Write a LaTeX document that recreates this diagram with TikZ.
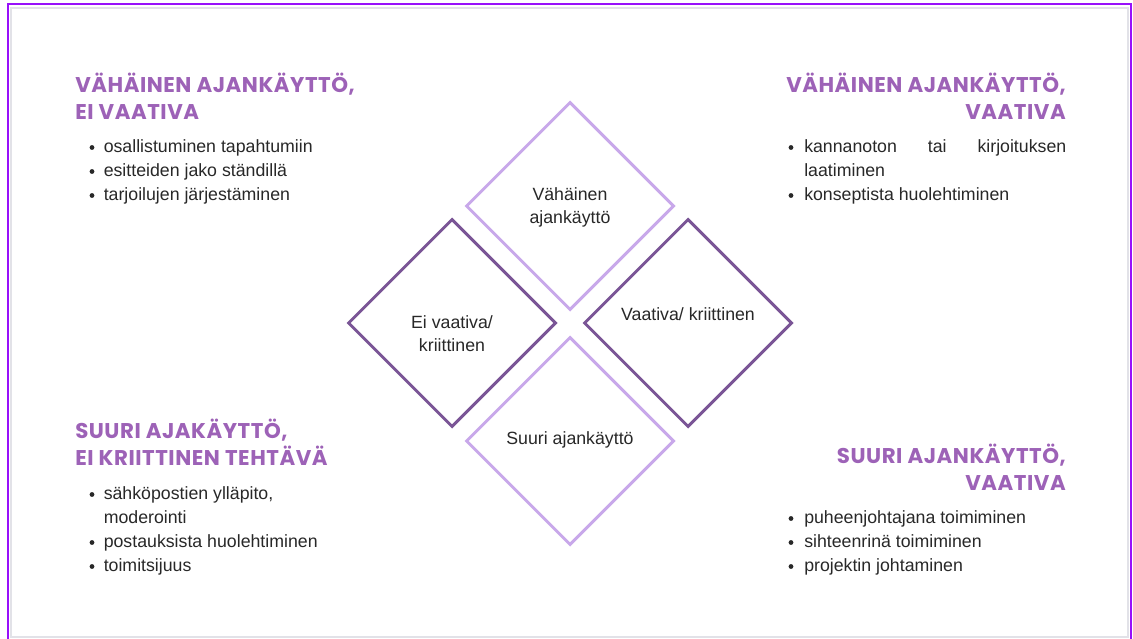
\documentclass[tikz,border=0pt]{standalone}
\usepackage{fontspec}
\setmainfont{Liberation Sans}
\newfontfamily\headfont{Poppins}[LetterSpace=2.5]
\usetikzlibrary{shapes.geometric}
\definecolor{frameviolet}{RGB}{152,16,250}
\definecolor{headpurple}{RGB}{157,98,183}
\definecolor{lightlav}{RGB}{200,168,234}
\definecolor{darkpurp}{RGB}{122,85,150}
\definecolor{bodytext}{RGB}{40,40,40}
\definecolor{edgegray}{RGB}{226,226,232}
\begin{document}
\begin{tikzpicture}[x=0.75pt,y=-0.75pt,
  heading/.style={font=\headfont\bfseries\fontsize{16}{20}\selectfont, text=headpurple, inner sep=0pt},
  itemtext/.style={font=\fontsize{13.3}{18}\selectfont, text=bodytext, inner sep=0pt, anchor=base west},
  dot/.style={circle, fill=bodytext, inner sep=0pt, minimum size=3.6pt},
  quad/.style={diamond, minimum width=156pt, minimum height=156pt, line width=2.25pt, inner sep=0pt},
  quadtext/.style={font=\fontsize{13.3}{17.2}\selectfont, text=bodytext, align=center, inner sep=0pt}]
\useasboundingbox (0,0) rectangle (1133,639);
\fill[white] (0,0) rectangle (1133,639);
% frame
\draw[edgegray, line width=1.2pt] (11,8) rectangle (1128,637);
\draw[frameviolet, line width=1.5pt] (7.8,639) -- (7.8,4) -- (1130.5,4) -- (1130.5,639);

% diamonds
\node[quad, draw=lightlav] (dtop) at (570,206) {};
\node[quad, draw=darkpurp] (dleft) at (452,323) {};
\node[quad, draw=darkpurp] (dright) at (688,323) {};
\node[quad, draw=lightlav] (dbot) at (570,441) {};
\node[quadtext] (ttop) at (570,207) {Vähäinen\\ajankäyttö};
\node[quadtext] (tleft) at (452,334) {Ei vaativa/\\kriittinen};
\node[quadtext] (tright) at (688,314) {Vaativa/ kriittinen};
\node[quadtext] (tbot) at (570,440) {Suuri ajankäyttö};

% top left
\node[heading, anchor=base west] (h1a) at (75,92) {VÄHÄINEN AJANKÄYTTÖ,};
\node[heading, anchor=base west] (h1b) at (75,119) {EI VAATIVA};
\node[dot] (b1a) at (92,147.5) {};
\node[itemtext] (i1a) at (103.5,152) {osallistuminen tapahtumiin};
\node[dot] (b1b) at (92,171.5) {};
\node[itemtext] (i1b) at (103.5,176) {esitteiden jako ständillä};
\node[dot] (b1c) at (92,195.5) {};
\node[itemtext] (i1c) at (103.5,200) {tarjoilujen järjestäminen};

% top right
\node[heading, anchor=base east] (h2a) at (1066,92) {VÄHÄINEN AJANKÄYTTÖ,};
\node[heading, anchor=base east] (h2b) at (1066,119) {VAATIVA};
\node[dot] (b2a) at (791,147.5) {};
\node[itemtext] (i2a) at (804,152) {\makebox[196.5pt][s]{kannanoton tai kirjoituksen}};
\node[itemtext] (i2b) at (804,176) {laatiminen};
\node[dot] (b2c) at (791,195.5) {};
\node[itemtext] (i2c) at (804,200) {konseptista huolehtiminen};

% bottom left
\node[heading, anchor=base west] (h3a) at (75,438) {SUURI AJAKÄYTTÖ,};
\node[heading, anchor=base west] (h3b) at (75,465) {EI KRIITTINEN TEHTÄVÄ};
\node[dot] (b3a) at (92,494.5) {};
\node[itemtext] (i3a) at (103.5,499) {sähköpostien ylläpito,};
\node[itemtext] (i3b) at (103.5,523) {moderointi};
\node[dot] (b3c) at (92,542.5) {};
\node[itemtext] (i3c) at (103.5,547) {postauksista huolehtiminen};
\node[dot] (b3d) at (92,566.5) {};
\node[itemtext] (i3d) at (103.5,571) {toimitsijuus};

% bottom right
\node[heading, anchor=base east] (h4a) at (1066,463) {SUURI AJANKÄYTTÖ,};
\node[heading, anchor=base east] (h4b) at (1066,490) {VAATIVA};
\node[dot] (b4a) at (791,518.5) {};
\node[itemtext] (i4a) at (804,523) {puheenjohtajana toimiminen};
\node[dot] (b4b) at (791,542.5) {};
\node[itemtext] (i4b) at (804,547) {sihteenrinä toimiminen};
\node[dot] (b4c) at (791,566.5) {};
\node[itemtext] (i4c) at (804,571) {projektin johtaminen};
\end{tikzpicture}
\end{document}
